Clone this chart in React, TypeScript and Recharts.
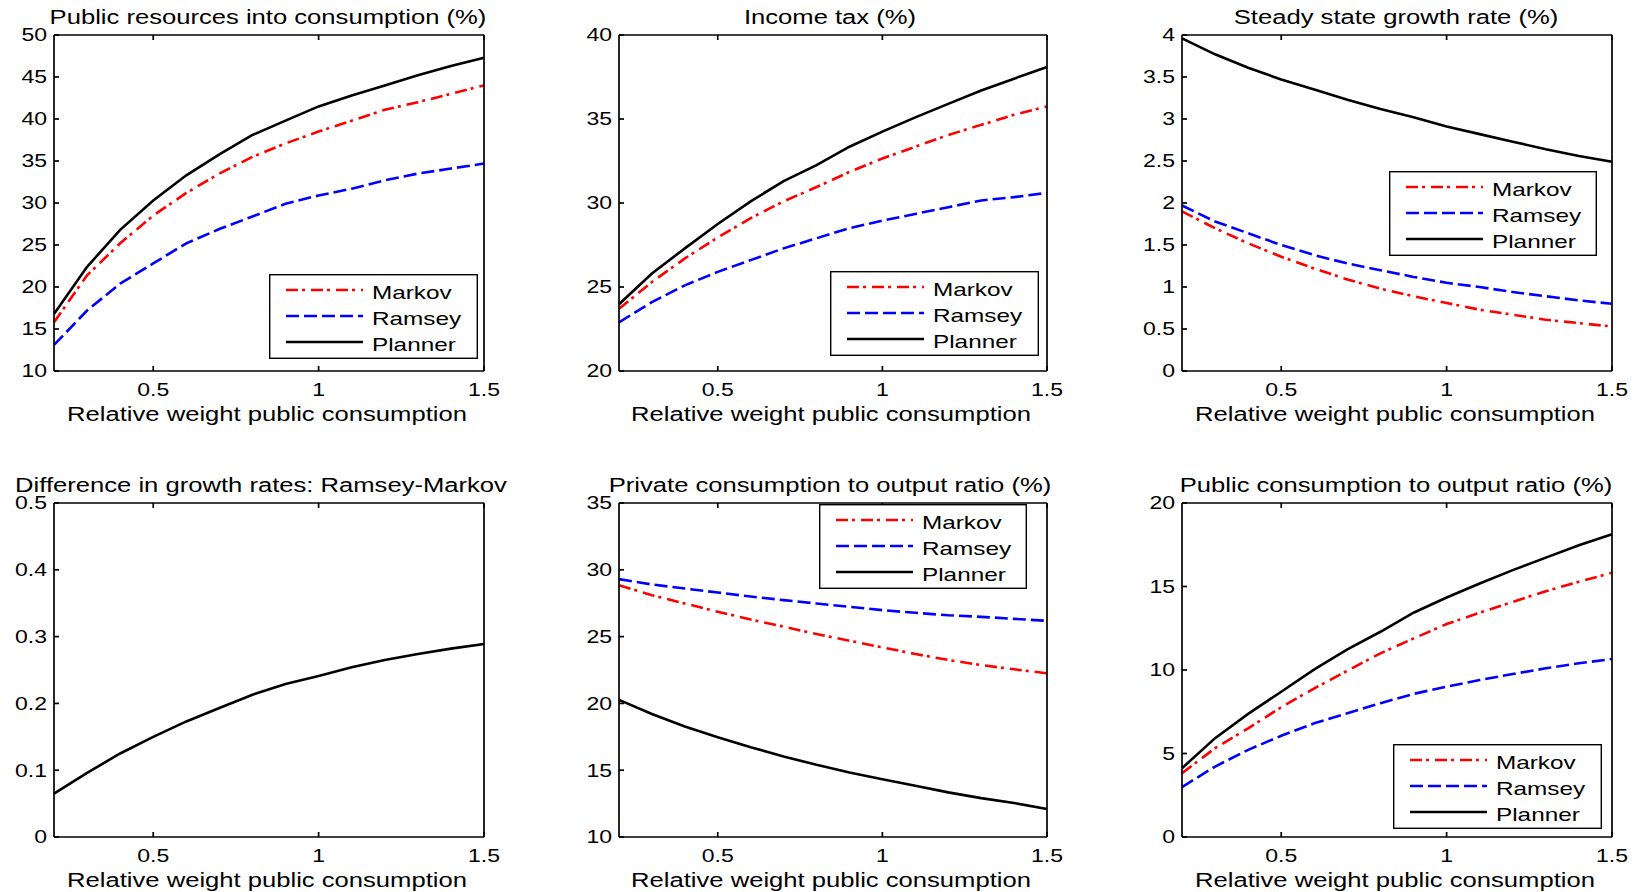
import React from 'react';
import { LineChart, Line, XAxis, YAxis, Legend } from 'recharts';

const weights = [0.2, 0.3, 0.4, 0.5, 0.6, 0.7, 0.8, 0.9, 1.0, 1.1, 1.2, 1.3, 1.4, 1.5];
const xTicks = [0.5, 1, 1.5];

// Public resources into consumption (%)
const resourcesMarkov = [15.8, 21.4, 25.2, 28.5, 31.2, 33.5, 35.5, 37.1, 38.5, 39.8, 41.1, 42.0, 43.0, 44.0];
const resourcesRamsey = [13.1, 17.2, 20.4, 22.8, 25.2, 26.9, 28.4, 29.9, 30.9, 31.7, 32.7, 33.5, 34.1, 34.7];
const resourcesPlanner = [16.8, 22.4, 26.8, 30.3, 33.3, 35.8, 38.1, 39.8, 41.5, 42.8, 44.0, 45.2, 46.3, 47.3];

// Income tax (%)
const taxMarkov = [23.7, 25.3, 26.7, 27.95, 29.1, 30.1, 30.95, 31.85, 32.65, 33.35, 34.05, 34.65, 35.25, 35.75];
const taxRamsey = [22.9, 24.1, 25.1, 25.9, 26.6, 27.3, 27.9, 28.5, 28.95, 29.35, 29.75, 30.15, 30.35, 30.6];
const taxPlanner = [23.97, 25.8, 27.3, 28.75, 30.1, 31.3, 32.25, 33.35, 34.25, 35.1, 35.9, 36.7, 37.4, 38.1];

// Steady state growth rate (%)
const growthMarkov = [1.9, 1.7, 1.52, 1.36, 1.22, 1.09, 0.98, 0.89, 0.81, 0.73, 0.67, 0.61, 0.57, 0.53];
const growthRamsey = [1.97, 1.78, 1.64, 1.5, 1.38, 1.28, 1.2, 1.12, 1.05, 1.0, 0.94, 0.89, 0.84, 0.8];
const growthPlanner = [3.96, 3.77, 3.61, 3.47, 3.35, 3.23, 3.12, 3.02, 2.91, 2.82, 2.73, 2.64, 2.56, 2.49];

// Difference in growth rates: Ramsey-Markov
const growthGap = [0.065, 0.096, 0.125, 0.15, 0.173, 0.193, 0.213, 0.229, 0.241, 0.254, 0.265, 0.274, 0.282, 0.289];

// Private consumption to output ratio (%)
const privateMarkov = [28.85, 28.1, 27.48, 26.86, 26.28, 25.74, 25.19, 24.69, 24.19, 23.7, 23.25, 22.87, 22.55, 22.25];
const privateRamsey = [29.3, 28.9, 28.6, 28.3, 28.0, 27.73, 27.48, 27.23, 26.98, 26.78, 26.6, 26.48, 26.33, 26.18];
const privatePlanner = [20.26, 19.21, 18.27, 17.47, 16.72, 16.03, 15.4, 14.83, 14.33, 13.83, 13.34, 12.91, 12.54, 12.09];

// Public consumption to output ratio (%)
const publicMarkov = [3.82, 5.32, 6.51, 7.77, 8.9, 9.96, 11.0, 11.89, 12.75, 13.43, 14.08, 14.72, 15.28, 15.82];
const publicRamsey = [2.99, 4.22, 5.22, 6.06, 6.81, 7.41, 8.01, 8.57, 9.0, 9.4, 9.76, 10.1, 10.4, 10.66];
const publicPlanner = [4.12, 5.92, 7.37, 8.7, 10.04, 11.24, 12.29, 13.43, 14.34, 15.18, 15.98, 16.73, 17.47, 18.13];

const FONT = '"Liberation Sans", Arial, Helvetica, sans-serif';
const SX = 1.28; // the original figure is stretched horizontally
const LINE_W = 2.6;

const SERIES = [
  { key: 'markov', name: 'Markov', color: '#ff0000', dash: '12 4 3 6' },
  { key: 'ramsey', name: 'Ramsey', color: '#0000ff', dash: '13 5' },
  { key: 'planner', name: 'Planner', color: '#000000', dash: undefined as string | undefined },
];
const GAP_SERIES = [{ key: 'gap', name: 'Ramsey-Markov', color: '#000000', dash: undefined as string | undefined }];

function rows(cols: Record<string, number[]>) {
  return weights.map((w, i) => {
    const r: Record<string, number> = { w };
    Object.keys(cols).forEach((k) => (r[k] = cols[k][i]));
    return r;
  });
}

const range = (a: number, b: number, step: number) => {
  const out: number[] = [];
  for (let i = 0; a + i * step <= b + 1e-9; i++) out.push(+(a + i * step).toFixed(2));
  return out;
};

type LegendBox = { x: number; y: number; w: number };

const panels = [
  {
    title: 'Public resources into consumption (%)',
    box: [54, 35, 484, 371],
    yDomain: [10, 50],
    yTicks: range(10, 50, 5),
    data: rows({ markov: resourcesMarkov, ramsey: resourcesRamsey, planner: resourcesPlanner }),
    series: SERIES,
    legend: { x: 269, y: 274, w: 209 } as LegendBox | null,
    titleDx: -1,
  },
  {
    title: 'Income tax (%)',
    box: [619, 35, 1047, 371],
    yDomain: [20, 40],
    yTicks: range(20, 40, 5),
    data: rows({ markov: taxMarkov, ramsey: taxRamsey, planner: taxPlanner }),
    series: SERIES,
    legend: { x: 830, y: 271, w: 209 },
    titleDx: -3,
  },
  {
    title: 'Steady state growth rate (%)',
    box: [1182, 35, 1612, 371],
    yDomain: [0, 4],
    yTicks: range(0, 4, 0.5),
    data: rows({ markov: growthMarkov, ramsey: growthRamsey, planner: growthPlanner }),
    series: SERIES,
    legend: { x: 1389, y: 171, w: 208 },
    titleDx: -1,
  },
  {
    title: 'Difference in growth rates: Ramsey-Markov',
    box: [54, 503, 484, 837],
    yDomain: [0, 0.5],
    yTicks: range(0, 0.5, 0.1),
    data: rows({ gap: growthGap }),
    series: GAP_SERIES,
    legend: null,
    titleDx: -8,
  },
  {
    title: 'Private consumption to output ratio (%)',
    box: [619, 503, 1047, 837],
    yDomain: [10, 35],
    yTicks: range(10, 35, 5),
    data: rows({ markov: privateMarkov, ramsey: privateRamsey, planner: privatePlanner }),
    series: SERIES,
    legend: { x: 819, y: 504, w: 208 },
    titleDx: -3,
  },
  {
    title: 'Public consumption to output ratio (%)',
    box: [1182, 503, 1612, 837],
    yDomain: [0, 20],
    yTicks: range(0, 20, 5),
    data: rows({ markov: publicMarkov, ramsey: publicRamsey, planner: publicPlanner }),
    series: SERIES,
    legend: { x: 1393, y: 744, w: 209 },
    titleDx: -1,
  },
];

const XTick = ({ x, y, payload }: any) => (
  <text
    transform={`translate(${x},${y}) scale(${SX},1)`}
    textAnchor="middle"
    dy="0.71em"
    fontSize={18}
    fontFamily={FONT}
    fill="#000"
  >
    {payload.value}
  </text>
);

const YTick = ({ x, y, payload }: any) => (
  <text
    transform={`translate(${x},${y}) scale(${SX},1)`}
    textAnchor="end"
    dy="0.35em"
    fontSize={18}
    fontFamily={FONT}
    fill="#000"
  >
    {payload.value}
  </text>
);

const NoLabel = () => <g />;

const frame = { stroke: '#000', strokeWidth: 1.7 };

// keep the plotting order (Markov, Ramsey, Planner) rather than the sorted payload
function legendContent(box: LegendBox) {
  return (props: any) => {
    const names = (props.payload || []).map((e: any) => e.value);
    const items = SERIES.filter((s) => names.includes(s.name));
    return (
      <svg width={box.w} height={85} style={{ display: 'block' }}>
        <rect x={0.7} y={0.7} width={box.w - 1.4} height={83.6} fill="#fff" stroke="#000" strokeWidth={1.4} />
        {items.map((s, i) => {
          const y = 16 + i * 26;
          return (
            <g key={s.key}>
              <line x1={17} x2={94} y1={y} y2={y} stroke={s.color} strokeWidth={LINE_W} strokeDasharray={s.dash} />
              <text transform={`translate(103,${y + 9}) scale(${SX},1)`} fontSize={19} fontFamily={FONT} fill="#000">
                {s.name}
              </text>
            </g>
          );
        })}
      </svg>
    );
  };
}

const PAD_L = 54;
const PAD_T = 40;
const PAD_R = 20;
const PAD_B = 60;

function Panel({ p }: { p: (typeof panels)[number] }) {
  const [L, T, R, B] = p.box;
  const left = L - PAD_L;
  const top = T - PAD_T;
  const width = R - L + PAD_L + PAD_R;
  const height = B - T + PAD_T + PAD_B;
  const textStyle: React.CSSProperties = {
    position: 'absolute',
    left: PAD_L + p.titleDx,
    width: R - L,
    textAlign: 'center',
    whiteSpace: 'nowrap',
    fontSize: 20,
    lineHeight: '20px',
    fontFamily: FONT,
    color: '#000',
    transform: `scaleX(${SX})`,
  };

  return (
    <div style={{ position: 'absolute', left, top, width, height }}>
      <div style={{ ...textStyle, top: PAD_T - 28 }}>{p.title}</div>
      <LineChart
        width={width}
        height={height}
        data={p.data}
        margin={{ top: PAD_T - 1, right: PAD_R - 1, bottom: PAD_B - 30, left: 0 }}
      >
        <XAxis
          xAxisId="b"
          dataKey="w"
          type="number"
          domain={[0.2, 1.5]}
          ticks={xTicks}
          height={30}
          tickSize={-5}
          tickMargin={17}
          axisLine={frame}
          tickLine={frame}
          tick={XTick}
        />
        <XAxis
          xAxisId="t"
          dataKey="w"
          orientation="top"
          type="number"
          domain={[0.2, 1.5]}
          ticks={xTicks}
          height={1}
          tickSize={-5}
          axisLine={frame}
          tickLine={frame}
          tick={NoLabel}
        />
        <YAxis
          yAxisId="l"
          type="number"
          domain={p.yDomain}
          ticks={p.yTicks}
          width={PAD_L}
          tickSize={-5}
          tickMargin={12}
          axisLine={frame}
          tickLine={frame}
          tick={YTick}
        />
        <YAxis
          yAxisId="r"
          orientation="right"
          type="number"
          domain={p.yDomain}
          ticks={p.yTicks}
          width={1}
          tickSize={-5}
          axisLine={frame}
          tickLine={frame}
          tick={NoLabel}
        />
        {p.series.map((s) => (
          <Line
            key={s.key}
            xAxisId="b"
            yAxisId="l"
            type="linear"
            dataKey={s.key}
            name={s.name}
            stroke={s.color}
            strokeWidth={LINE_W}
            strokeDasharray={s.dash}
            dot={false}
            activeDot={false}
            isAnimationActive={false}
          />
        ))}
        {p.legend && (
          <Legend
            layout="horizontal"
            verticalAlign="middle"
            align="center"
            content={legendContent(p.legend)}
            wrapperStyle={{
              position: 'absolute',
              left: p.legend.x - left,
              top: p.legend.y - top,
              width: p.legend.w,
              height: 85,
            }}
          />
        )}
      </LineChart>
      <div style={{ ...textStyle, left: PAD_L - 2, top: PAD_T + (B - T) + 33 }}>
        Relative weight public consumption
      </div>
    </div>
  );
}

export default function App() {
  return (
    <div
      style={{
        position: 'absolute',
        left: 0,
        top: 0,
        width: 1639,
        height: 892,
        background: '#fff',
        fontFamily: FONT,
      }}
    >
      {panels.map((p) => (
        <Panel key={p.title} p={p} />
      ))}
    </div>
  );
}
